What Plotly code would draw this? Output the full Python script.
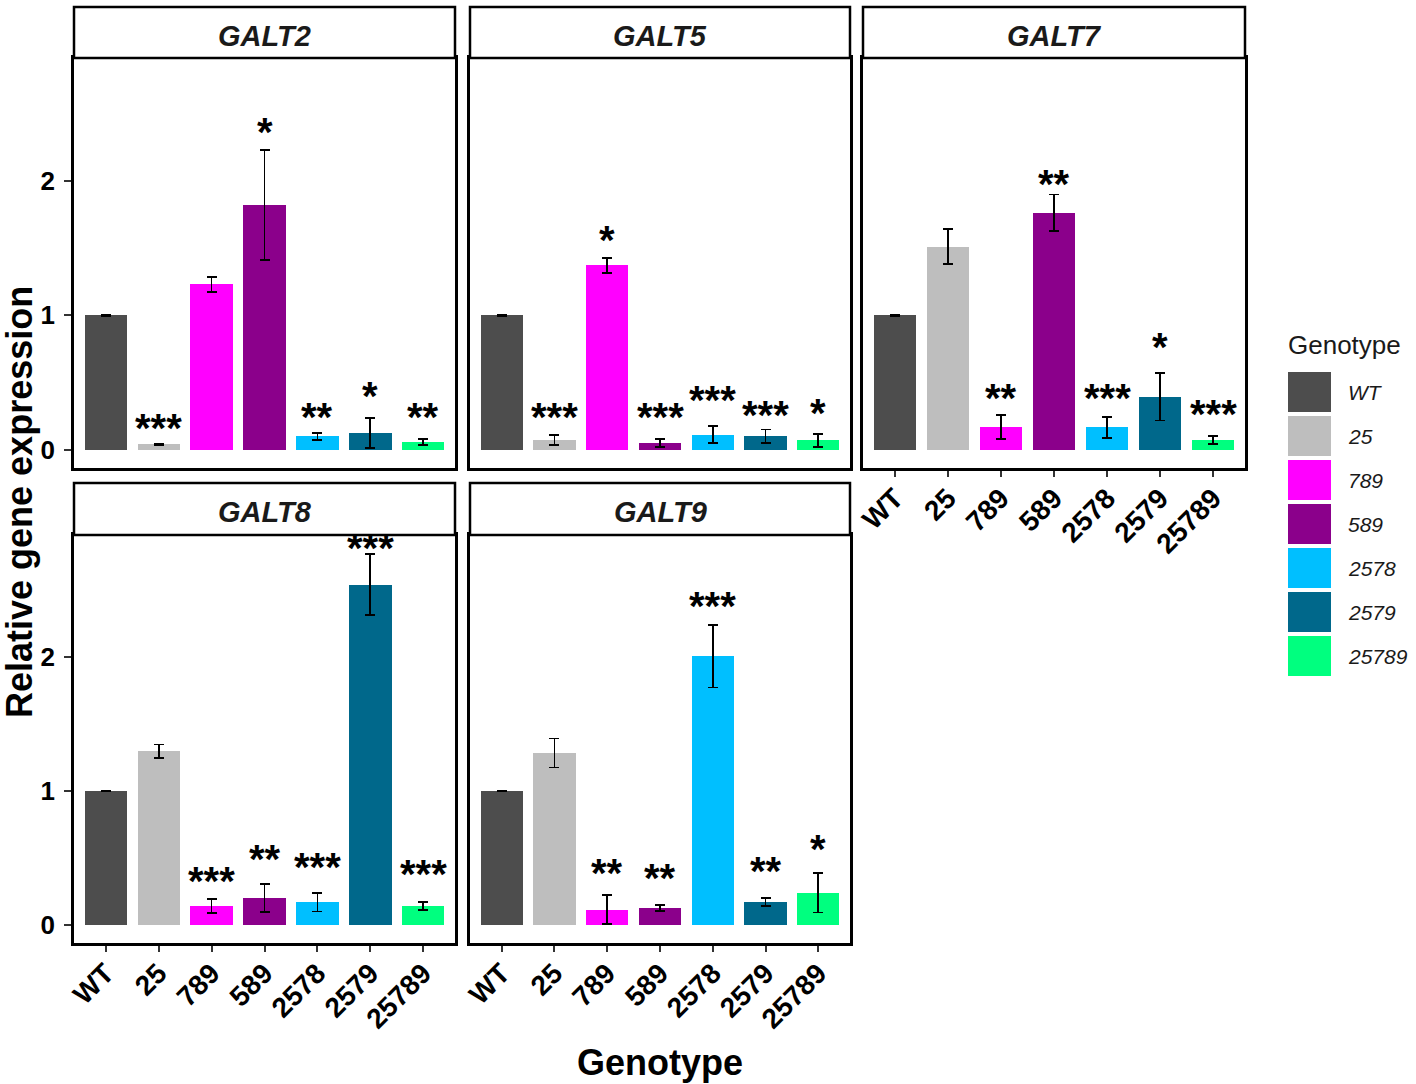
import plotly.graph_objects as go

# ---------------- data ----------------
genotypes = ["WT", "25", "789", "589", "2578", "2579", "25789"]
colors = ["#4D4D4D", "#BEBEBE", "#FF00FF", "#8B008B", "#00BFFF", "#00688B", "#00FF7F"]
genes = ["GALT2", "GALT5", "GALT7", "GALT8", "GALT9"]

galt2_mean = [1.00, 0.04, 1.23, 1.82, 0.10, 0.125, 0.056]
galt2_se = [0.003, 0.005, 0.055, 0.41, 0.027, 0.11, 0.022]
galt2_sig = ["", "***", "", "*", "**", "*", "**"]
galt2_sig_y = [None, 0.20, None, 2.40, 0.28, 0.44, 0.28]

galt5_mean = [1.00, 0.07, 1.372, 0.052, 0.113, 0.10, 0.07]
galt5_se = [0.003, 0.037, 0.055, 0.03, 0.064, 0.05, 0.05]
galt5_sig = ["", "***", "*", "***", "***", "***", "*"]
galt5_sig_y = [None, 0.28, 1.595, 0.28, 0.41, 0.295, 0.31]

galt7_mean = [1.00, 1.51, 0.168, 1.765, 0.168, 0.394, 0.07]
galt7_se = [0.003, 0.13, 0.09, 0.135, 0.078, 0.177, 0.03]
galt7_sig = ["", "", "**", "**", "***", "*", "***"]
galt7_sig_y = [None, None, 0.424, 2.015, 0.424, 0.80, 0.30]

galt8_mean = [1.00, 1.298, 0.141, 0.199, 0.169, 2.543, 0.141]
galt8_se = [0.003, 0.05, 0.05, 0.105, 0.07, 0.228, 0.03]
galt8_sig = ["", "", "***", "**", "***", "***", "***"]
galt8_sig_y = [None, None, 0.365, 0.53, 0.467, 2.854, 0.414]

galt9_mean = [1.00, 1.285, 0.112, 0.124, 2.01, 0.169, 0.241]
galt9_se = [0.003, 0.108, 0.108, 0.022, 0.235, 0.031, 0.149]
galt9_sig = ["", "", "**", "**", "***", "**", "*"]
galt9_sig_y = [None, None, 0.422, 0.385, 2.42, 0.44, 0.608]

y_ticks = [0, 1, 2]

panels = [
    (galt2_mean, galt2_se, galt2_sig, galt2_sig_y),
    (galt5_mean, galt5_se, galt5_sig, galt5_sig_y),
    (galt7_mean, galt7_se, galt7_sig, galt7_sig_y),
    (galt8_mean, galt8_se, galt8_sig, galt8_sig_y),
    (galt9_mean, galt9_se, galt9_sig, galt9_sig_y),
]

# ---------------- layout geometry ----------------
W, H = 1416, 1084
FONT = "Liberation Sans, Arial, sans-serif"
cols_px = [(74, 455), (470, 850), (863, 1245)]
rows_px = [((7, 58), (58, 468)), ((483, 535), (535, 943))]
grid = [(0, 0), (0, 1), (0, 2), (1, 0), (1, 1)]
show_x = [False, False, True, True, True]
show_y = [True, False, False, True, False]


def fx(px):
    return px / W


def fy(py):
    return 1 - py / H


fig = go.Figure()
shapes = []
annotations = []
layout = {}

for i, (gene, (mean, se, sig, sig_y)) in enumerate(zip(genes, panels)):
    r, c = grid[i]
    x0, x1 = cols_px[c]
    (s0, s1), (p0, p1) = rows_px[r]
    n = i + 1
    xa = "x" if n == 1 else f"x{n}"
    ya = "y" if n == 1 else f"y{n}"
    xkey = "xaxis" if n == 1 else f"xaxis{n}"
    ykey = "yaxis" if n == 1 else f"yaxis{n}"

    fig.add_trace(go.Bar(
        x=genotypes, y=mean, width=0.8,
        marker=dict(color=colors, line=dict(width=0)),
        error_y=dict(type="data", array=se, visible=True, color="black",
                     thickness=1.8, width=5),
        xaxis=xa, yaxis=ya, showlegend=False, hoverinfo="x+y",
    ))

    layout[xkey] = dict(
        domain=[fx(x0), fx(x1)], anchor=ya, type="category",
        categoryorder="array", categoryarray=genotypes, automargin=False,
        range=[-0.6, 6.6], showgrid=False, zeroline=False,
        showline=True, mirror=True, linecolor="black", linewidth=2.5,
        ticks="outside" if show_x[i] else "", ticklen=6, tickwidth=1.5,
        tickcolor="#333333", showticklabels=show_x[i], tickangle=-45,
        ticklabelstandoff=-6,
        tickfont=dict(family=FONT, size=28, color="black", weight="bold"),
    )
    layout[ykey] = dict(
        domain=[fy(p1), fy(p0)], anchor=xa, automargin=False,
        range=[-0.136, 2.915], showgrid=False, zeroline=False,
        showline=True, mirror=True, linecolor="black", linewidth=2.5,
        tickvals=y_ticks, ticks="outside" if show_y[i] else "", ticklen=7,
        tickwidth=1.5, tickcolor="#333333", showticklabels=show_y[i],
        ticklabelstandoff=4,
        tickfont=dict(family=FONT, size=26, color="black", weight="bold"),
    )

    # strip
    shapes.append(dict(type="rect", xref="paper", yref="paper",
                       x0=fx(x0), x1=fx(x1), y0=fy(s1), y1=fy(s0),
                       line=dict(color="black", width=2.5), fillcolor="white",
                       layer="above"))
    annotations.append(dict(text=gene, xref="paper", yref="paper",
                            x=fx((x0 + x1) / 2), y=fy((s0 + s1) / 2),
                            xanchor="center", yanchor="middle", yshift=-3,
                            showarrow=False,
                            font=dict(family=FONT, size=29, color="#1a1a1a",
                                      weight="bold", style="italic")))

    # significance labels (x given as category index)
    for k, (s, yy) in enumerate(zip(sig, sig_y)):
        if s:
            annotations.append(dict(text=s, xref=xa, yref=ya, x=k, y=yy,
                                    xanchor="center", yanchor="middle",
                                    yshift=-5, showarrow=False,
                                    font=dict(family=FONT, size=40, color="black",
                                              weight="bold")))

# axis titles
annotations.append(dict(text="Genotype", xref="paper", yref="paper",
                        x=fx(660), y=fy(1062), xanchor="center", yanchor="middle",
                        showarrow=False,
                        font=dict(family=FONT, size=36, color="black", weight="bold")))
annotations.append(dict(text="Relative gene expression", xref="paper", yref="paper",
                        x=fx(19), y=fy(502), xanchor="center", yanchor="middle",
                        textangle=-90, showarrow=False,
                        font=dict(family=FONT, size=36, color="black", weight="bold")))

# legend (drawn manually to match large ggplot keys)
annotations.append(dict(text="Genotype", xref="paper", yref="paper",
                        x=fx(1286), y=fy(345), xanchor="left", yanchor="middle",
                        showarrow=False,
                        font=dict(family=FONT, size=26, color="#1a1a1a")))
for k, (g, col) in enumerate(zip(genotypes, colors)):
    top = 372 + k * 44
    shapes.append(dict(type="rect", xref="paper", yref="paper",
                       x0=fx(1288), x1=fx(1331), y0=fy(top + 40), y1=fy(top),
                       line=dict(width=0), fillcolor=col))
    annotations.append(dict(text=g, xref="paper", yref="paper",
                            x=fx(1346), y=fy(top + 20), xanchor="left",
                            yanchor="middle", showarrow=False,
                            font=dict(family=FONT, size=21, color="#1a1a1a",
                                      style="italic")))

fig.update_layout(
    width=W, height=H, margin=dict(l=0, r=0, t=0, b=0, autoexpand=False),
    paper_bgcolor="white", plot_bgcolor="white",
    shapes=shapes, annotations=annotations, bargap=0,
    **layout,
)

fig.write_html("out.html", config={"displayModeBar": False},
               post_script="document.body.style.margin='0';document.body.style.overflow='hidden';")
